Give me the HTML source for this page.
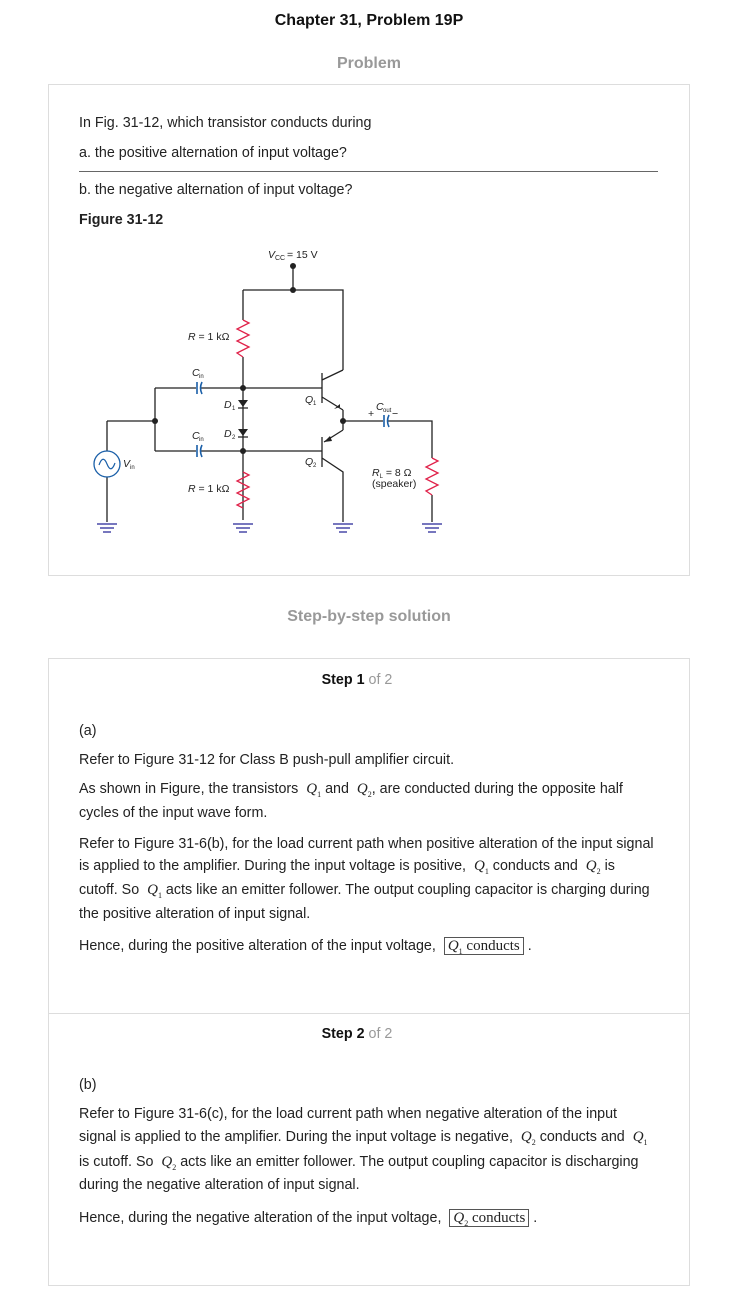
<!DOCTYPE html>
<html><head><meta charset="utf-8">
<style>
body{margin:0;width:738px;height:1311px;background:#fff;position:relative;font-family:"Liberation Sans",Arial,sans-serif;color:#222;overflow:hidden}
.t{position:absolute;font-size:14.3px;white-space:nowrap;line-height:16px}
.box{position:absolute;border:1px solid #ddd;background:#fff}
.q{font-family:"Liberation Serif",serif;font-style:italic;font-size:15px}
.q sub{font-size:8px;font-style:normal}
.ans{border:1px solid #555;padding:0 3px;font-family:"Liberation Serif",serif;font-size:15px}
</style></head><body>
<div class="t" style="left:0;width:738px;text-align:center;top:13px;font-weight:bold;font-size:16px;color:#111">Chapter 31, Problem 19P</div>
<div class="t" style="left:0;width:738px;text-align:center;top:56px;font-weight:bold;font-size:16px;color:#999">Problem</div>
<div class="box" style="left:48px;top:84px;width:640px;height:490px"></div>
<div class="t" style="left:79px;top:115px">In Fig. 31-12, which transistor conducts during</div>
<div class="t" style="left:79px;top:145px">a. the positive alternation of input voltage?</div>
<div style="position:absolute;left:79px;top:171px;width:579px;height:1px;background:#666"></div>
<div class="t" style="left:79px;top:182px">b. the negative alternation of input voltage?</div>
<div class="t" style="left:79px;top:212px;font-weight:bold">Figure 31-12</div>

<svg style="position:absolute;left:0;top:0" width="738" height="580" font-family="Liberation Sans,Arial,sans-serif">
<g stroke="#222" stroke-width="1.3" fill="none">
<path d="M293 268V290M243 290H343V370M243 290V320M243 357V508M243 508V520"/>
<path d="M155 388H196M201 388H322M155 388V451M155 451H196M201 451H322M107 421H155M107 421V451M107 477V522"/>
<path d="M322 373V403M322 437V467M322 380L343 370M322 397L343 410M343 410V430M343 430L324 442M322 458L343 472V522M343 421H383M388 421H432V458M432 495V522"/>
</g>
<g stroke="#e0224a" stroke-width="1.3" fill="none">
<polyline points="243,320 249,323 237,329 249,335 237,341 249,347 237,353 243,357"/>
<polyline points="243,472 249,475 237,481 249,487 237,493 249,499 237,505 243,508"/>
<polyline points="432,458 438,461 426,467 438,473 426,479 438,485 426,491 432,495"/>
</g>
<g stroke="#1a5fa8" stroke-width="1.6" fill="none">
<path d="M197 382V394M202 382Q199 388 202 394M197 445V457M202 445Q199 451 202 457M384 415V427M389 415Q386 421 389 427"/>
<circle cx="107" cy="464" r="13" stroke-width="1.3"/>
<path d="M99 465Q103 454 107 464T115 463" stroke-width="1.2"/>
</g>
<g fill="#222">
<circle cx="293" cy="266" r="3"/><circle cx="293" cy="290" r="3"/><circle cx="243" cy="388" r="3"/><circle cx="243" cy="451" r="3"/><circle cx="155" cy="421" r="3"/><circle cx="343" cy="421" r="3"/>
<polygon points="238,400 248,400 243,407"/><polygon points="238,429 248,429 243,436"/>
<polygon points="340,407 334,409 340,404"/><polygon points="324,442 330,436 332,441"/>
</g>
<g stroke="#222" stroke-width="1.2"><path d="M238 408H248M238 437H248"/></g>
<g stroke="#4a4aa8" stroke-width="1.5">
<path d="M97 524H117M100 528H114M103 532H111"/>
<path d="M233 524H253M236 528H250M239 532H247"/>
<path d="M333 524H353M336 528H350M339 532H347"/>
<path d="M422 524H442M425 528H439M428 532H436"/>
</g>
<g font-size="10.5" fill="#222">
<text x="268" y="258" font-style="italic">V</text><text x="275" y="260" font-size="7">CC</text><text x="287" y="258">= 15 V</text>
<text x="188" y="340"><tspan font-style="italic">R</tspan> = 1 kΩ</text>
<text x="188" y="492"><tspan font-style="italic">R</tspan> = 1 kΩ</text>
<text x="192" y="376" font-style="italic">C</text><text x="199" y="378" font-size="6">in</text>
<text x="192" y="439" font-style="italic">C</text><text x="199" y="441" font-size="6">in</text>
<text x="224" y="408" font-style="italic">D</text><text x="232" y="410" font-size="6">1</text>
<text x="224" y="437" font-style="italic">D</text><text x="232" y="439" font-size="6">2</text>
<text x="305" y="403" font-style="italic">Q</text><text x="313" y="405" font-size="6">1</text>
<text x="305" y="465" font-style="italic">Q</text><text x="313" y="467" font-size="6">2</text>
<text x="376" y="410" font-style="italic">C</text><text x="383" y="412" font-size="6">out</text>
<text x="368" y="417">+</text><text x="392" y="417">−</text>
<text x="123" y="467" font-style="italic">V</text><text x="130" y="469" font-size="6">in</text>
<text x="372" y="476"><tspan font-style="italic">R</tspan><tspan font-size="6" dy="2">L</tspan><tspan dy="-2"> = 8 Ω</tspan></text>
<text x="372" y="487">(speaker)</text>
</g>
</svg>

<div class="t" style="left:0;width:738px;text-align:center;top:609px;font-weight:bold;font-size:16px;color:#999">Step-by-step solution</div>
<div class="box" style="left:48px;top:658px;width:640px;height:626px"></div>
<div style="position:absolute;left:48px;top:1013px;width:642px;height:1px;background:#ddd"></div>
<div class="t" style="left:0;width:714px;text-align:center;top:672px;font-weight:bold;color:#111">Step 1 <span style="font-weight:normal;color:#999">of 2</span></div>
<div class="t" style="left:79px;top:723px">(a)</div>
<div class="t" style="left:79px;top:752px">Refer to Figure 31-12 for Class B push-pull amplifier circuit.</div>
<div class="t" style="left:79px;top:781px">As shown in Figure, the transistors &nbsp;<span class="q">Q<sub>1</sub></span> and &nbsp;<span class="q">Q<sub>2</sub></span>, are conducted during the opposite half</div>
<div class="t" style="left:79px;top:805px">cycles of the input wave form.</div>
<div class="t" style="left:79px;top:836px">Refer to Figure 31-6(b), for the load current path when positive alteration of the input signal</div>
<div class="t" style="left:79px;top:858px">is applied to the amplifier. During the input voltage is positive, &nbsp;<span class="q">Q<sub>1</sub></span> conducts and &nbsp;<span class="q">Q<sub>2</sub></span> is</div>
<div class="t" style="left:79px;top:882px">cutoff. So &nbsp;<span class="q">Q<sub>1</sub></span> acts like an emitter follower. The output coupling capacitor is charging during</div>
<div class="t" style="left:79px;top:906px">the positive alteration of input signal.</div>
<div class="t" style="left:79px;top:938px">Hence, during the positive alteration of the input voltage, &nbsp;<span class="ans"><span class="q">Q<sub>1</sub></span> conducts</span> .</div>

<div class="t" style="left:0;width:714px;text-align:center;top:1026px;font-weight:bold;color:#111">Step 2 <span style="font-weight:normal;color:#999">of 2</span></div>
<div class="t" style="left:79px;top:1077px">(b)</div>
<div class="t" style="left:79px;top:1106px">Refer to Figure 31-6(c), for the load current path when negative alteration of the input</div>
<div class="t" style="left:79px;top:1129px">signal is applied to the amplifier. During the input voltage is negative, &nbsp;<span class="q">Q<sub>2</sub></span> conducts and &nbsp;<span class="q">Q<sub>1</sub></span></div>
<div class="t" style="left:79px;top:1154px">is cutoff. So &nbsp;<span class="q">Q<sub>2</sub></span> acts like an emitter follower. The output coupling capacitor is discharging</div>
<div class="t" style="left:79px;top:1177px">during the negative alteration of input signal.</div>
<div class="t" style="left:79px;top:1210px">Hence, during the negative alteration of the input voltage, &nbsp;<span class="ans"><span class="q">Q<sub>2</sub></span> conducts</span> .</div>
</body></html>
